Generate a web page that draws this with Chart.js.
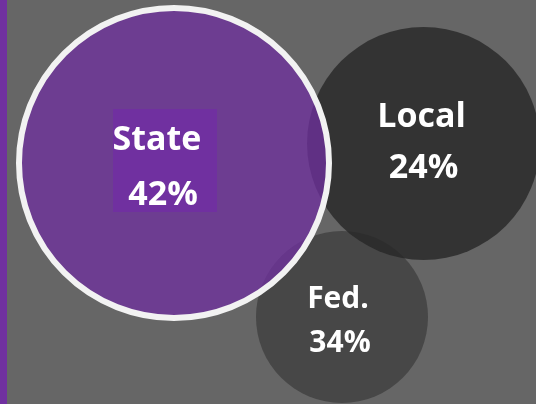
<!DOCTYPE html>
<html>
<head>
<meta charset="utf-8">
<script src="https://cdn.jsdelivr.net/npm/chart.js@4"></script>
<style>
html,body{margin:0;padding:0;background:#666666;overflow:hidden;}
canvas{display:block;}
</style>
</head>
<body>
<canvas id="c" width="536" height="404"></canvas>
<script>
// Data (draw order: Fed, Local, State on top)
const categories = ["Fed.", "Local", "State"];
const shares = [34, 24, 42];            // percent labels
const xValues = [342, 423.5, 174];      // bubble x (chart units)
const yValues = [317, 143.5, 163];      // bubble y (chart units)
const bubbleSizes = [86, 116.5, 155];   // bubble size values

const fills = ["rgba(40,40,40,0.5)", "rgba(39,39,39,0.81)", "rgba(112,48,160,0.75)"];
const borders = ["rgba(0,0,0,0)", "rgba(0,0,0,0)", "#F2F2F2"];
const borderWidths = [0, 0, 6];

const bgPlugin = {
  id: 'bg',
  beforeDraw(chart) {
    const ctx = chart.ctx;
    ctx.save();
    ctx.fillStyle = '#666666';
    ctx.fillRect(0, 0, chart.width, chart.height);
    ctx.fillStyle = '#7030A0';
    ctx.fillRect(0, 0, 7, chart.height);
    ctx.restore();
  }
};

const labelStyle = {
  "Fed.":  {size: 30, dx1: -4, dx2: -2, base1: -9, base2: 35},
  "Local": {size: 34, dx1: -2, dx2: 0, base1: -16.5, base2: 34.5},
  "State": {size: 34, dx1: -17, dx2: -11, base1: -13, base2: 42, box: {dx: -61, dy: -54, w: 104, h: 103}}
};

const labelPlugin = {
  id: 'labels',
  afterDatasetsDraw(chart) {
    const ctx = chart.ctx;
    const meta = chart.getDatasetMeta(0);
    ctx.save();
    meta.data.forEach((el, i) => {
      const name = categories[i];
      const st = labelStyle[name];
      const x = el.x, y = el.y;
      if (st.box) {
        ctx.fillStyle = '#7030A0';
        ctx.fillRect(x + st.box.dx, y + st.box.dy, st.box.w, st.box.h);
      }
      ctx.fillStyle = '#FFFFFF';
      ctx.textAlign = 'center';
      ctx.textBaseline = 'alphabetic';
      ctx.font = 'bold ' + st.size + 'px "Open Sans"';
      ctx.fillText(name, x + st.dx1, y + st.base1);
      ctx.fillText(shares[i] + '%', x + st.dx2, y + st.base2);
    });
    ctx.restore();
  }
};

new Chart(document.getElementById('c'), {
  type: 'bubble',
  data: {
    labels: categories,
    datasets: [{
      data: categories.map((c, i) => ({x: xValues[i], y: yValues[i], r: bubbleSizes[i]})),
      backgroundColor: fills,
      borderColor: borders,
      borderWidth: borderWidths,
      hoverBorderWidth: borderWidths,
      hoverRadius: 0,
      clip: false
    }]
  },
  options: {
    responsive: false,
    animation: false,
    devicePixelRatio: 1,
    events: [],
    layout: {padding: 0, autoPadding: false},
    plugins: {legend: {display: false}, tooltip: {enabled: false}},
    scales: {
      x: {type: 'linear', min: 0, max: 536, display: false},
      y: {type: 'linear', min: 0, max: 404, reverse: true, display: false}
    }
  },
  plugins: [bgPlugin, labelPlugin]
});
</script>
</body>
</html>
